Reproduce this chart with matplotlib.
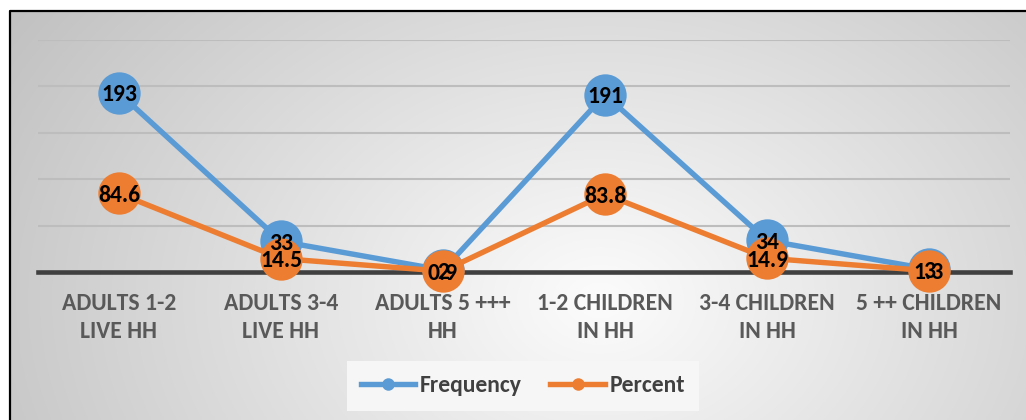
import numpy as np
import matplotlib
matplotlib.use("Agg")
import matplotlib.pyplot as plt
from matplotlib.lines import Line2D

plt.rcParams['font.family'] = ['Carlito', 'DejaVu Sans']

categories = ["ADULTS 1-2\nLIVE HH", "ADULTS 3-4\nLIVE HH", "ADULTS 5 +++\nHH",
              "1-2 CHILDREN\nIN HH", "3-4 CHILDREN\nIN HH", "5 ++ CHILDREN\nIN HH"]
frequency = [193, 33, 2, 191, 34, 3]
percent = [84.6, 14.5, 0.9, 83.8, 14.9, 1.3]
y_ticks = [0, 50, 100, 150, 200, 250]

BLUE = "#5B9BD5"
ORANGE = "#ED7D31"
FS = 17

W, H = 1026, 420
fig = plt.figure(figsize=(W / 100, H / 100), dpi=100)

# chart-area background: soft radial gradient, white in the middle, grey at edges
bg = fig.add_axes([0, 0, 1, 1], zorder=-10)
yy, xx = np.mgrid[0:H, 0:W]
r = np.sqrt(((xx - 600) / 620.0) ** 2 + ((yy - 300) / 460.0) ** 2)
shade = 252 - 52 * np.clip(r, 0, 1.2)
img = np.dstack([shade, shade, shade]) / 255.0
img[:10, :, :] = 1.0
img[:, :9, :] = 1.0
bg.imshow(img, extent=(0, W, H, 0), aspect='auto', interpolation='bilinear')
bg.set_xlim(0, W)
bg.set_ylim(H, 0)
bg.axis('off')
# outer frame of the chart area (top and left edges)
bg.plot([9.5, 9.5, W], [H, 10.5, 10.5], color='black', lw=1.6, solid_capstyle='butt')

ax = fig.add_axes([38 / W, (H - 272) / H, 972 / W, (272 - 40) / H])
ax.patch.set_alpha(0)
x = np.arange(len(categories))
ax.set_xlim(-0.5, len(categories) - 0.5)
ax.set_ylim(0, 250)
for s in ax.spines.values():
    s.set_visible(False)
ax.set_yticks(y_ticks)
ax.yaxis.grid(True, color='#bdbdbd', lw=1.5)
ax.set_axisbelow(True)
ax.tick_params(axis='y', left=False, labelleft=False)
ax.set_xticks(x)
ax.set_xticklabels(categories, fontsize=FS, fontweight='bold', color='#595959',
                   linespacing=1.4)
ax.tick_params(axis='x', length=0, pad=15)
ax.axhline(0, color='#404040', lw=3.3, zorder=1, clip_on=False)

ax.plot(x, frequency, color=BLUE, lw=3.9, marker='o', ms=30.5, mew=0, zorder=3,
        label='Frequency')
ax.plot(x, percent, color=ORANGE, lw=3.9, marker='o', ms=30.5, mew=0, zorder=4,
        label='Percent', clip_on=False)

for xi, v in zip(x, frequency):
    ax.text(xi, v, f"{v:g}", ha='center', va='center_baseline', fontsize=FS,
            fontweight='bold', color='black', zorder=6)
for xi, v in zip(x, percent):
    ax.text(xi, v, f"{v:g}", ha='center', va='center_baseline', fontsize=FS,
            fontweight='bold', color='black', zorder=5)

handles = [Line2D([], [], color=BLUE, lw=3.9, marker='o', ms=9, mew=0),
           Line2D([], [], color=ORANGE, lw=3.9, marker='o', ms=9, mew=0)]
leg = fig.legend(handles, ['Frequency', 'Percent'], loc='center',
                 bbox_to_anchor=(523 / W, 1 - 386 / H), ncol=2, frameon=True,
                 fancybox=False, facecolor='#f6f6f6', edgecolor='none', framealpha=1,
                 prop={'family': 'Carlito', 'weight': 'bold', 'size': FS},
                 handlelength=2.3, handletextpad=0.2, columnspacing=1.2,
                 borderpad=0.6)
for t in leg.get_texts():
    t.set_color('#404040')

fig.savefig("out.png", dpi=100)
